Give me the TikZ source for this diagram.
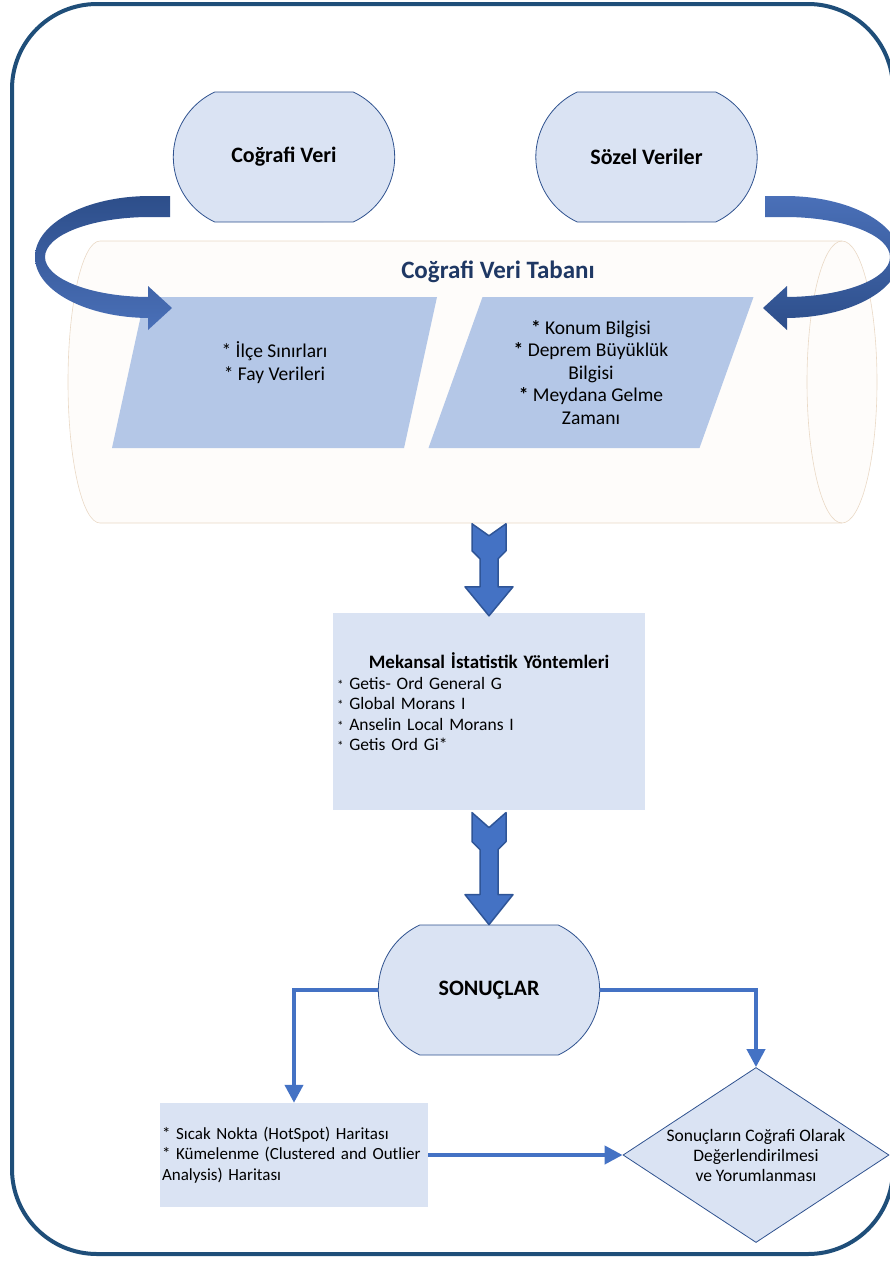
\documentclass[tikz,border=0pt]{standalone}
\usepackage{fontspec}
\setmainfont{Carlito}
\usepackage{tikz}
\usetikzlibrary{arrows.meta}
\usetikzlibrary{shapes.geometric}
\usetikzlibrary{shapes.misc}
\usetikzlibrary{positioning}
\definecolor{framecol}{HTML}{1F4E79}
\definecolor{termfill}{HTML}{DAE3F3}
\definecolor{termline}{HTML}{2F528F}
\definecolor{parafill}{HTML}{B4C7E7}
\definecolor{linkcol}{HTML}{4472C4}
\definecolor{arrowedge}{HTML}{2F5597}
\definecolor{dbfill}{HTML}{FEFCFA}
\definecolor{dbline}{HTML}{EAD9C6}
\definecolor{titlecol}{HTML}{1F3864}
\definecolor{benddark}{HTML}{2D4E8A}
\definecolor{bendlight}{HTML}{4A70B8}

\begin{document}
\begin{tikzpicture}[x=1pt,y=-1pt,>={Triangle[length=18pt,width=18pt]},
    term node/.style={rounded rectangle,rounded rectangle arc length=130,draw=termline,line width=0.8,fill=termfill,
      minimum width=228,minimum height=130,font=\fontsize{22}{26}\selectfont\bfseries},
    para node/.style={trapezium,trapezium left angle=64,trapezium right angle=116,trapezium stretches body,
      fill=parafill,minimum width=325,minimum height=151,align=center,font=\fontsize{19.5}{22.5}\selectfont},
    box node/.style={rectangle,fill=termfill},
    list text/.style={align=left,font=\fontsize{17.5}{20.5}\selectfont},
    dec node/.style={diamond,aspect=1.52,draw=termline,line width=0.8,fill=termfill,minimum width=266,
      minimum height=175,inner sep=0pt,align=center,font=\fontsize{17.5}{20}\selectfont},
    link/.style={->,draw=linkcol,line width=4},
    block arrow/.style={fill=linkcol,draw=arrowedge,line width=1.5,line join=round}]
  \useasboundingbox (0,0) rectangle (890,1267);
  \draw[framecol,line width=4,rounded corners=85] (12,4) rectangle (893,1254);

  % veri tabani
  \draw[dbline,line width=0.6,fill=dbfill] (842,241) -- (100,241) arc[start angle=270,end angle=90,x radius=32,y radius=141]
    -- (842,523) arc[start angle=90,end angle=-90,x radius=35,y radius=141] -- cycle;
  \draw[dbline,line width=0.6] (842,241) arc[start angle=270,end angle=90,x radius=35,y radius=141];
  \node[font=\fontsize{25}{29}\selectfont\bfseries,text=titlecol] (dbtitle) at (498,272) {Coğrafi Veri Tabanı};
  \node[para node] (ilce) at (274.5,372.5) {* İlçe Sınırları\\{}* Fay Verileri\\ \mbox{}};
  \node[para node] (konum) at (591,372.5) {\textbf{*} Konum Bilgisi\\\textbf{*} Deprem Büyüklük\\Bilgisi\\\textbf{*} Meydana Gelme\\Zamanı};

  % kaynaklar
  \node[term node] (cveri) at (284,157) {Coğrafi Veri};
  \node[term node] (sveri) at (646.5,157) {Sözel Veriler};
  \path[top color=benddark,bottom color=bendlight] (170,196) -- (150,196)
    arc[start angle=270,end angle=90,x radius=115,y radius=61] -- (148,318) -- (148,330) -- (172,308)
    -- (148,286) -- (148,297) -- (150,297) arc[start angle=90,end angle=270,x radius=105,y radius=40] -- (170,217) -- cycle;
  \path[top color=bendlight,bottom color=benddark] (765,196) -- (785,196)
    arc[start angle=270,end angle=450,x radius=115,y radius=61] -- (787,318) -- (787,330) -- (763,308)
    -- (787,286) -- (787,297) -- (785,297) arc[start angle=90,end angle=-90,x radius=105,y radius=40] -- (765,217) -- cycle;

  % yontemler
  \node[box node,minimum width=312,minimum height=197] (yontem) at (489,711.5) {};
  \node[list text,text width=304,inner sep=0,below=40pt of yontem.north] (yontemtext)
    {\makebox[304pt]{\fontsize{19}{22}\selectfont\bfseries Mekansal İstatistik Yöntemleri}\\
     {\fontsize{13}{13}\selectfont *} Getis- Ord General G\\
     {\fontsize{13}{13}\selectfont *} Global Morans I\\
     {\fontsize{13}{13}\selectfont *} Anselin Local Morans I\\
     {\fontsize{13}{13}\selectfont *} Getis Ord Gi*};
  \path[block arrow] (yontem.north) ++(0,3) -- ++(-24,-29) -- ++(15,0) -- ++(0,-28) -- ++(-8,-8) -- ++(0,-27)
    -- ++(17,12) -- ++(17,-12) -- ++(0,27) -- ++(-8,8) -- ++(0,28) -- ++(15,0) -- cycle;

  % sonuclar
  \node[term node] (sonuc) at (489,990) {SONUÇLAR};
  \path[block arrow] (sonuc.north) -- ++(-24,-30) -- ++(15,0) -- ++(0,-45) -- ++(-8,-8) -- ++(0,-29)
    -- ++(17,15) -- ++(17,-15) -- ++(0,29) -- ++(-8,8) -- ++(0,45) -- ++(15,0) -- cycle;
  \node[box node,list text,minimum width=266,minimum height=104,text width=264,inner xsep=2,inner ysep=4,
    font=\fontsize{17}{20.5}\selectfont] (harita) at (294,1155)
    {\raggedright * Sıcak Nokta (HotSpot) Haritası\\{}* Kümelenme (Clustered and Outlier\\Analysis) Haritası};
  \node[dec node] (deger) at (756,1155) {Sonuçların Coğrafi Olarak\\Değerlendirilmesi\\ ve Yorumlanması};
  \draw[link] (sonuc.west) -| (harita.north);
  \draw[link] (sonuc.east) -| (deger.north);
  \draw[link] (harita.east) -- (deger.west);
\end{tikzpicture}
\end{document}
